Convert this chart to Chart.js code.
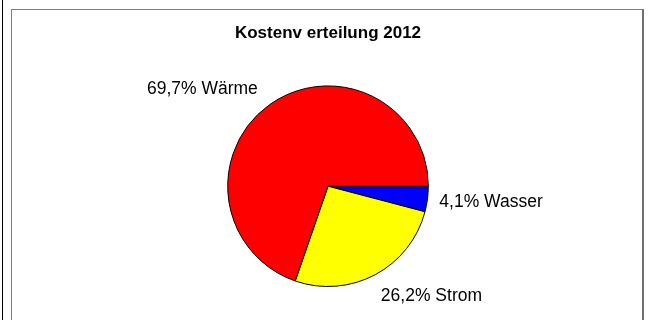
<!DOCTYPE html>
<html>
<head>
<meta charset="utf-8">
<script src="https://cdn.jsdelivr.net/npm/chart.js@4"></script>
<style>
  html, body { margin: 0; padding: 0; background: #fff; }
  #wrap { position: relative; width: 650px; height: 320px; overflow: hidden; }
  #leftline { position: absolute; left: 2px; top: 0; width: 1px; height: 320px; background: #000; }
  #frame { position: absolute; left: 11px; top: 9px; width: 630px; height: 330px;
           border-left: 1px solid #7f7f7f; border-top: 1px solid #7f7f7f; border-right: 2px solid #6f6f6f; }
  canvas { position: absolute; left: 0; top: 0; }
</style>
</head>
<body>
<div id="wrap">
  <div id="leftline"></div>
  <div id="frame"></div>
  <canvas id="c" width="650" height="320"></canvas>
</div>
<script>
const titleText = "Kostenv erteilung 2012";
const categories = ["Wasser", "Strom", "Wärme"];
const values = [4.1, 26.2, 69.7];
const colors = ["#0000FF", "#FFFF00", "#FF0000"];

const labelFont = '17.5px "Liberation Sans", Arial, sans-serif';

const outsideLabels = {
  id: 'outsideLabels',
  afterDatasetsDraw(chart, args, opts) {
    const ctx = chart.ctx;
    const meta = chart.getDatasetMeta(0);
    const nudges = opts.nudges || [];
    ctx.save();
    ctx.font = labelFont;
    ctx.fillStyle = '#000';
    ctx.textBaseline = 'middle';
    meta.data.forEach((arc, i) => {
      const p = arc.getProps(['x', 'y', 'startAngle', 'endAngle', 'outerRadius'], true);
      const mid = (p.startAngle + p.endAngle) / 2;
      const c = Math.cos(mid), s = Math.sin(mid);
      const R = p.outerRadius + 12;
      const n = nudges[i] || [0, 0];
      const x = p.x + R * c + n[0];
      const y = p.y + R * s + s * 12.5 + n[1];
      ctx.textAlign = c >= 0 ? 'left' : 'right';
      const v = values[i].toFixed(1).replace('.', ',');
      ctx.fillText(v + '% ' + categories[i], x, y);
    });
    ctx.restore();
  }
};

new Chart(document.getElementById('c'), {
  type: 'pie',
  data: {
    labels: categories,
    datasets: [{
      data: values,
      backgroundColor: colors,
      borderColor: '#000',
      borderWidth: 1
    }]
  },
  options: {
    responsive: false,
    animation: false,
    rotation: 90,
    layout: { padding: { left: 227, right: 221, top: 23, bottom: 33 } },
    plugins: {
      legend: { display: false },
      tooltip: { enabled: false },
      title: {
        display: true,
        text: titleText,
        color: '#000',
        font: { family: '"Liberation Sans", Arial, sans-serif', size: 17, weight: 'bold', lineHeight: 1.2 },
        padding: { top: 0, bottom: 42 }
      },
      outsideLabels: { nudges: [[0, 0], [0, 0], [-5, 5]] }
    }
  },
  plugins: [outsideLabels]
});
</script>
</body>
</html>
